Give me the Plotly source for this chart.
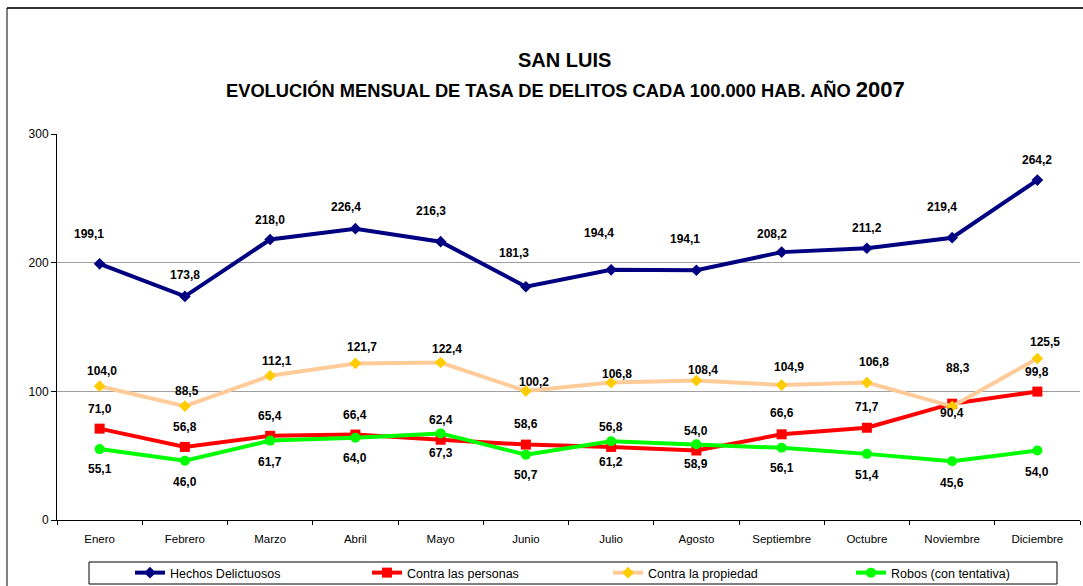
import plotly.graph_objects as go

months = ["Enero", "Febrero", "Marzo", "Abril", "Mayo", "Junio", "Julio",
          "Agosto", "Septiembre", "Octubre", "Noviembre", "Diciembre"]
hechos = [199.1, 173.8, 218.0, 226.4, 216.3, 181.3, 194.4, 194.1, 208.2, 211.2, 219.4, 264.2]
personas = [71.0, 56.8, 65.4, 66.4, 62.4, 58.6, 56.8, 54.0, 66.6, 71.7, 90.4, 99.8]
propiedad = [104.0, 88.5, 112.1, 121.7, 122.4, 100.2, 106.8, 108.4, 104.9, 106.8, 88.3, 125.5]
robos = [55.1, 46.0, 61.7, 64.0, 67.3, 50.7, 61.2, 58.9, 56.1, 51.4, 45.6, 54.0]
y_ticks = [0, 100, 200, 300]

# label placement offsets (pixels) - styling only
hechos_dx = [-11, 0, 0, -9, -10, -12, -12, -11, -10, 0, -10, 0]
hechos_dy = [30, 21, 20, 22, 31, 34, 37, 31, 18, 20, 31, 20]
prop_dx = [2, 2, 7, 7, 6, 8, 6, 7, 7, 7, 6, 8]
prop_dy = [15, 15, 15, 16, 14, 9, 9, 11, 18, 21, 38, 17]
pers_dy = [20, 20, 20, 20, 20, 21, 20, 20, 21, 21, -9, 20]
robos_dy = [-20, -21, -21, -20, -20, -20, -21, -20, -20, -21, -22, -21]
legend_px = [137, 374, 615, 858]   # left edge of legend line samples

FONT = "Arial, Liberation Sans, sans-serif"

W, H = 1083, 586
ML, MR, MT, MB = 57, 3, 134, 66
PW, PH = W - ML - MR, H - MT - MB


def px_x(x):
    return (x - ML) / PW


def px_y(y):
    return (H - MB - y) / PH


series_defs = [
    ("Hechos Delictuosos", hechos, "#000080", "#000080", "diamond", 9),
    ("Contra las personas", personas, "#FF0000", "#FF0000", "square", 10),
    ("Contra la propiedad", propiedad, "#FFCC99", "#FFCC00", "diamond", 9),
    ("Robos (con tentativa)", robos, "#00FF00", "#00FF00", "circle", 10),
]

fig = go.Figure()
legend_layout = {}
for i, (name, vals, lc, mc, sym, sz) in enumerate(series_defs):
    lname = "legend" if i == 0 else "legend%d" % (i + 1)
    fig.add_trace(go.Scatter(x=months, y=vals, name=name, mode="lines+markers",
                             line=dict(color=lc, width=4),
                             marker=dict(symbol=sym, size=sz, color=mc),
                             legend=lname))
    legend_layout[lname] = dict(orientation="h", x=px_x(legend_px[i] - 7), y=px_y(558),
                                xanchor="left", yanchor="top",
                                font=dict(family=FONT, size=12.5, color="black"),
                                bgcolor="rgba(0,0,0,0)", borderwidth=0, itemclick=False,
                                itemdoubleclick=False)


def fmt(v):
    return f"{v:.1f}".replace(".", ",")


annotations = []
for series, dxs, dys in [(hechos, hechos_dx, hechos_dy),
                         (propiedad, prop_dx, prop_dy),
                         (personas, [0] * 12, pers_dy),
                         (robos, [0] * 12, robos_dy)]:
    for m, v, dx, dy in zip(months, series, dxs, dys):
        annotations.append(dict(x=m, y=v, text="<b>%s</b>" % fmt(v), showarrow=False,
                                xshift=dx, yshift=dy, xanchor="center", yanchor="middle",
                                font=dict(family=FONT, size=12, color="black")))

annotations.append(dict(xref="paper", yref="paper", x=px_x(564), y=px_y(60),
                        text="<b>SAN LUIS</b>", showarrow=False, xanchor="center", yanchor="middle",
                        font=dict(family=FONT, size=20, color="black")))
annotations.append(dict(xref="paper", yref="paper", x=px_x(565.5), y=px_y(89),
                        text="<b>EVOLUCIÓN MENSUAL DE TASA DE DELITOS CADA 100.000 HAB. AÑO "
                             "<span style='font-size:22px'>2007</span></b>",
                        showarrow=False, xanchor="center", yanchor="middle",
                        font=dict(family=FONT, size=18.3, color="black")))

shapes = [
    dict(type="line", xref="paper", yref="paper", x0=px_x(7), x1=px_x(1083), y0=px_y(8), y1=px_y(8),
         line=dict(color="#333333", width=2)),
    dict(type="line", xref="paper", yref="paper", x0=px_x(7), x1=px_x(7), y0=px_y(8), y1=px_y(590),
         line=dict(color="black", width=1)),
    dict(type="rect", xref="paper", yref="paper", x0=px_x(89), x1=px_x(1057), y0=px_y(562), y1=px_y(584),
         line=dict(color="black", width=1)),
]

fig.update_layout(
    width=W, height=H,
    margin=dict(l=ML, r=MR, t=MT, b=MB, pad=0, autoexpand=False),
    paper_bgcolor="white", plot_bgcolor="white",
    font=dict(family=FONT, color="black"),
    showlegend=True,
    annotations=annotations,
    shapes=shapes,
    **legend_layout,
)
fig.update_xaxes(type="category", range=[-0.5, len(months) - 0.5], showline=True,
                 linecolor="black", linewidth=1,
                 ticks="outside", ticklen=4, tickcolor="black", tickson="boundaries",
                 showgrid=False, tickfont=dict(family=FONT, size=11.5, color="black"),
                 ticklabelstandoff=8, fixedrange=True)
fig.update_yaxes(range=[0, 300], tickvals=y_ticks, showline=True, linecolor="black", linewidth=1,
                 ticks="outside", ticklen=5, tickcolor="black",
                 showgrid=True, gridcolor="#A0A0A0", gridwidth=1, zeroline=False,
                 tickfont=dict(family=FONT, size=12, color="black"), fixedrange=True)

fig.write_html("out.html", config={"displayModeBar": False},
               post_script="document.body.style.margin='0';document.body.style.padding='0';"
                           "document.body.style.overflow='hidden';")
